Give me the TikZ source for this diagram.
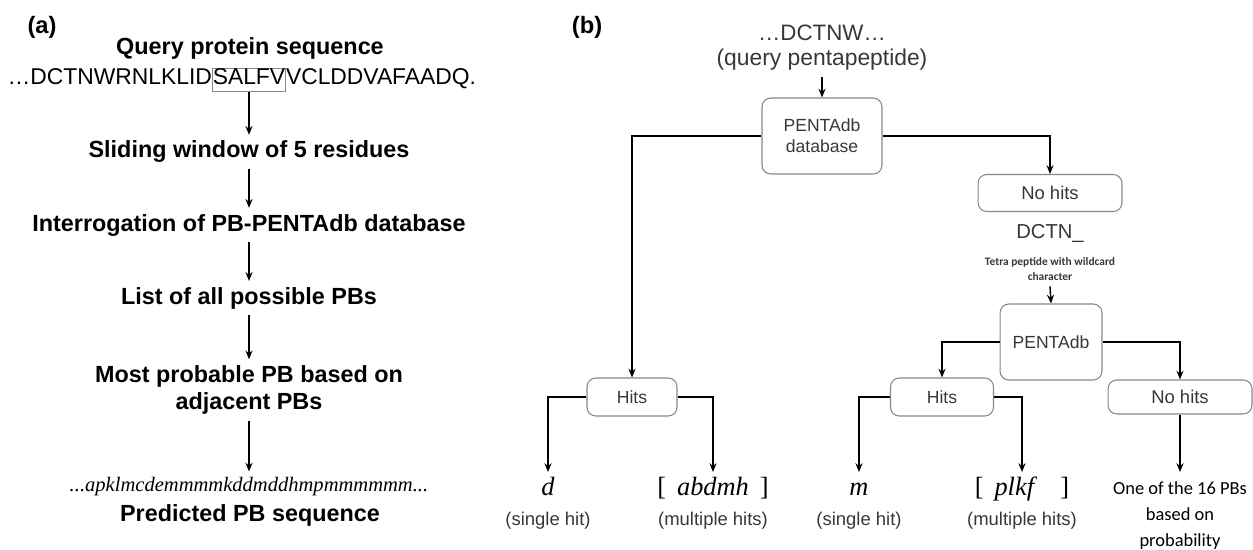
\documentclass[tikz,border=0pt]{standalone}
\usepackage{fontspec}
\setmainfont{Liberation Sans}
\newfontfamily\pbserif{Liberation Serif}
\newfontfamily\calfont{Carlito}
\usetikzlibrary{arrows.meta, positioning}
\definecolor{boxgray}{RGB}{135,135,135}
\definecolor{txtgray}{RGB}{55,55,55}

\begin{document}
\begin{tikzpicture}[x=0.02cm, y=-0.02cm, >={Stealth[length=5pt, width=4pt]},
    head/.style={font=\fontsize{13.3}{15.5}\selectfont\bfseries, align=center},
    seq/.style={font=\fontsize{13}{15}\selectfont, inner xsep=0pt, text height=0.75em, text depth=0.22em},
    rbox/.style={draw=boxgray, rounded corners=5pt, line width=0.6pt, text=txtgray, align=center,
                 font=\fontsize{10}{12}\selectfont},
    link/.style={->, line width=0.8pt},
    leafsym/.style={anchor=north, font=\pbserif\itshape\fontsize{15}{17}\selectfont,
                    inner ysep=2pt, text height=11pt, text depth=3pt},
    leafsub/.style={font=\fontsize{10.5}{12}\selectfont, text=txtgray, inner sep=2pt}]

\useasboundingbox (0,0) rectangle (1253,549);

% === (a) Pipeline ===
\node[font=\fontsize{13.5}{15}\selectfont\bfseries] (labA) at (42,27) {(a)};
\node[head] (query) at (250,48) {Query protein sequence};

% sequence with the 5-residue window
\node[seq, draw=boxgray, line width=0.6pt, inner ysep=1.5pt] (win) at (249,80) {SALFV};
\node[seq, left=0pt of win] (seqL) {\ldots DCTNWRNLKLID};
\node[seq, right=0pt of win] (seqR) {VCLDDVAFAADQ.};

\node[head] (slide) at (249,152) {Sliding window of 5 residues};
\node[head] (interr) at (249,225) {Interrogation of PB-PENTAdb database};
\node[head] (list) at (249,298) {List of all possible PBs};
\node[head] (most) at (249,390) {Most probable PB based on\\adjacent PBs};
\node[font=\pbserif\itshape\fontsize{11.7}{14}\selectfont] (pbseq) at (249,487) {...apklmcdemmmmkddmddhmpmmmmmm...};
\node[head] (pred) at (250,515) {Predicted PB sequence};

\draw[link] (win.south) -- (slide.north);
\draw[link] (slide) -- (interr);
\draw[link] (interr) -- (list);
\draw[link] (list) -- (most);
\draw[link] (most) -- (pbseq);

% === (b) PENTAdb search ===
\node[font=\fontsize{13.5}{15}\selectfont\bfseries] (labB) at (587,27) {(b)};
\node[font=\fontsize{12.7}{15}\selectfont, text=txtgray] (pep) at (822,33) {\ldots DCTNW\ldots};
\node[font=\fontsize{13}{15}\selectfont, text=txtgray] (pepq) at (822,60) {(query pentapeptide)};

\node[rbox, minimum width=2.4cm, minimum height=1.52cm] (db) at (822,136) {PENTAdb\\database};
\node[rbox, minimum width=2.88cm, minimum height=0.74cm, font=\fontsize{10.5}{12}\selectfont] (nohitA) at (1050,193) {No hits};
\node[font=\fontsize{11.5}{13}\selectfont, text=txtgray] (dctn) at (1050,233) {DCTN\_};
\node[font=\calfont\bfseries\fontsize{6.5}{8}\selectfont, text=txtgray, align=center] (tetra) at (1050,269) {Tetra peptide with wildcard\\character};
\node[rbox, minimum width=2.04cm, minimum height=1.52cm] (pdb) at (1051,342) {PENTAdb};

\node[rbox, minimum width=1.8cm, minimum height=0.76cm] (hitsA) at (632,397) {Hits};
\node[rbox, minimum width=2.06cm, minimum height=0.76cm] (hitsB) at (942,397) {Hits};
\node[rbox, minimum width=2.88cm, minimum height=0.68cm, font=\fontsize{10.5}{12}\selectfont] (nohitB) at (1180,397) {No hits};

% leaves
\node[leafsym] (leafD) at (548,472) {d};
\node[leafsub, below=2pt of leafD] (subD) {(single hit)};
\node[leafsym] (leafAbd) at (713,472) {{\upshape[}\, abdmh\, {\upshape]}};
\node[leafsub, below=2pt of leafAbd] (subAbd) {(multiple hits)};
\node[leafsym] (leafM) at (859,472) {m};
\node[leafsub, below=2pt of leafM] (subM) {(single hit)};
\node[leafsym] (leafPlkf) at (1022,472) {{\upshape[}\, plkf\quad {\upshape]}};
\node[leafsub, below=2pt of leafPlkf] (subPlkf) {(multiple hits)};
\node[anchor=north, font=\calfont\fontsize{10.5}{14.6}\selectfont, align=center, inner ysep=5.5pt] (prob) at (1180,472) {One of the 16 PBs\\based on\\probability};

% connectors
\draw[link] (pepq.south) -- (db.north);
\draw[link] (db.west) -| (hitsA.north);
\draw[link] (db.east) -| (nohitA.north);
\draw[link] (tetra.south) -- (pdb.north);
\draw[link] (pdb.west) -| (hitsB.north);
\draw[link] (pdb.east) -| (nohitB.north);
\draw[link] (hitsA.west) -| (leafD.north);
\draw[link] (hitsA.east) -| (leafAbd.north);
\draw[link] (hitsB.west) -| (leafM.north);
\draw[link] (hitsB.east) -| (leafPlkf.north);
\draw[link] (nohitB.south) -- (prob.north);

\end{tikzpicture}
\end{document}
